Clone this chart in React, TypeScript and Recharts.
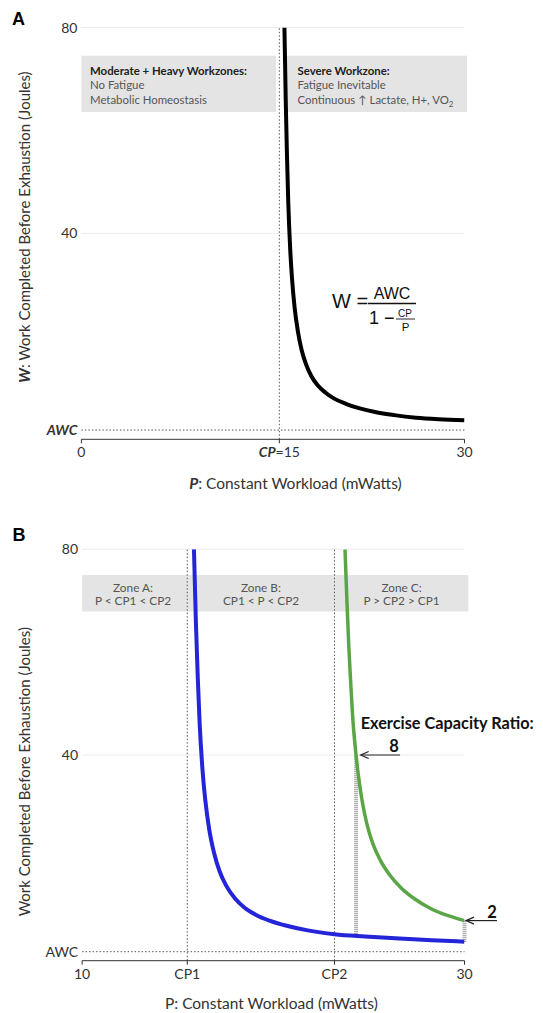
import React from 'react'
import { ComposedChart, Line, XAxis, YAxis, ReferenceLine, ReferenceArea } from 'recharts'

const FONT = 'Lato, "Open Sans", sans-serif'
const MATH = '"Liberation Sans", Arial, sans-serif'

// panel A
const AWC_A = 1.8
const CP_A = 15.5
const pA = [15.9, 16.0, 16.1, 16.2, 16.35, 16.5, 16.7, 16.95, 17.25, 17.6, 18.0, 18.5, 19.1, 19.8, 20.7, 21.8, 23.0, 24.5, 26.2, 28.0, 30]
const wA = [80, 66, 55, 46, 37, 31, 25.5, 21, 17.3, 14.5, 12.3, 10.5, 9.1, 7.9, 6.9, 6.0, 5.3, 4.7, 4.2, 3.9, 3.7]
const ticksXA = [0, CP_A, 30]

// panel B
const AWC_B = 1.75
const CP1 = 15.5
const CP2 = 23.2
const pBlue = [15.85, 15.95, 16.05, 16.15, 16.3, 16.45, 16.65, 16.9, 17.2, 17.55, 18.0, 18.5, 19.1, 19.8, 20.7, 21.8, 23.2, 24.8, 26.6, 28.3, 30]
const wBlue = [80, 66, 55, 46, 37, 31, 25.5, 21, 17.3, 14.5, 12.1, 10.3, 8.9, 7.8, 6.8, 5.9, 5.15, 4.7, 4.3, 3.98, 3.7]
const pGreen = [23.75, 23.85, 23.95, 24.05, 24.15, 24.3, 24.45, 24.65, 24.9, 25.2, 25.6, 26.1, 26.7, 27.4, 28.2, 29.1, 30]
const wGreen = [80, 70, 61, 54, 47.5, 41, 36, 31, 26.5, 22.8, 19.5, 16.6, 14.1, 12.0, 10.2, 8.8, 7.8]
const ticksXB = [10, CP1, CP2, 30]
const tickNamesB = ['10', 'CP1', 'CP2', '30']
const zonesB = [
  { name: 'Zone A:', rule: 'P < CP1 < CP2', x1: 10, x2: CP1 },
  { name: 'Zone B:', rule: 'CP1 < P < CP2', x1: CP1, x2: CP2 },
  { name: 'Zone C:', rule: 'P > CP2 > CP1', x1: CP2, x2: 30.2 }
]
// exercise capacity ratios
const ratioHi = { p: 24.33, low: 4.85, high: 40, label: '8' }
const ratioLo = { p: 30, low: 3.7, high: 7.8, label: '2' }

const seriesA = pA.map((p, i) => ({ p, w: wA[i] }))
const blue = pBlue.map((p, i) => ({ p, w: wBlue[i] }))
const green = pGreen.map((p, i) => ({ p, w: wGreen[i] }))

function YTick({ x, y, payload, italicAwc }: any) {
  const isAwc = payload.value < 5
  return (
    <text x={x} y={y} dy="0.36em" textAnchor="end" fontFamily={FONT} fontSize={14} fill="#333"
      fontWeight={isAwc && italicAwc ? 'bold' : 'normal'} fontStyle={isAwc && italicAwc ? 'italic' : 'normal'}>
      {isAwc ? 'AWC' : payload.value}
    </text>
  )
}

function XTickA({ x, y, payload }: any) {
  return (
    <text x={x} y={y} dy="0.71em" textAnchor="middle" fontFamily={FONT} fontSize={14} fill="#333">
      {payload.value === CP_A ? (
        <>
          <tspan fontWeight="bold" fontStyle="italic">CP</tspan>
          <tspan>=15</tspan>
        </>
      ) : payload.value}
    </text>
  )
}

function XTickB({ x, y, payload }: any) {
  const i = ticksXB.indexOf(payload.value)
  return (
    <text x={x} y={y} dy="0.71em" textAnchor="middle" fontFamily={FONT} fontSize={14} fill="#333">
      {tickNamesB[i]}
    </text>
  )
}

const arrow = (label: string, lx: number, ly: number) => (props: any) => {
  const { x1, y1, x2, y2 } = props
  return (
    <g>
      <line x1={x1} y1={y1} x2={x2} y2={y2} stroke="#222" strokeWidth={1.2} />
      <polyline points={`${x1 + 8},${y1 - 3.5} ${x1},${y1} ${x1 + 8},${y1 + 3.5}`} fill="none" stroke="#222" strokeWidth={1.2} />
      <text x={x2 + lx} y={y1 + ly} textAnchor="middle" fontFamily={FONT} fontWeight="bold" fontSize={16.5} fill="#111">
        {label}
      </text>
    </g>
  )
}

function PanelA() {
  return (
    <div style={{ position: 'absolute', left: 0, top: 0, width: 543, height: 500 }}>
      <ComposedChart width={543} height={500} margin={{ top: 27.5, right: 78.5, bottom: 0, left: 0 }}>
        <XAxis type="number" dataKey="p" domain={[0, 30]} ticks={ticksXA} allowDataOverflow
          height={60.7} tickSize={4} tickMargin={4} stroke="#333" tick={<XTickA />} />
        <YAxis type="number" domain={[0, 80]} ticks={[AWC_A, 40, 80]} allowDataOverflow width={81.4}
          axisLine={false} tickLine={false} tickSize={0} tickMargin={4} tick={<YTick italicAwc />} />
        <ReferenceLine y={80} stroke="#ececec" />
        <ReferenceLine y={40} stroke="#ececec" />
        <ReferenceArea x1={0} x2={15.25} y1={63.6} y2={74.5} fill="#e4e4e4" fillOpacity={1} stroke="none" ifOverflow="visible" />
        <ReferenceArea x1={16.1} x2={30.2} y1={63.6} y2={74.5} fill="#e4e4e4" fillOpacity={1} stroke="none" ifOverflow="visible" />
        <ReferenceLine y={AWC_A} stroke="#555" strokeDasharray="1.5 2" />
        <ReferenceLine x={CP_A} stroke="#555" strokeDasharray="1.5 2" />
        <Line data={seriesA} dataKey="w" type="monotone" stroke="#000" strokeWidth={4} dot={false} isAnimationActive={false} />
      </ComposedChart>
      <svg width={543} height={500} style={{ position: 'absolute', left: 0, top: 0, pointerEvents: 'none' }}>
        <text x={12} y={25} fontFamily={MATH} fontWeight="bold" fontSize={18} fill="#000">A</text>
        <g fontFamily={FONT} fontSize={11.4}>
          <text x={90} y={74.5} fontWeight="bold" fill="#222">Moderate + Heavy Workzones:</text>
          <text x={90} y={89} fill="#555">No Fatigue</text>
          <text x={90} y={103.5} fill="#555">Metabolic Homeostasis</text>
          <text x={297.5} y={74.5} fontWeight="bold" fill="#222">Severe Workzone:</text>
          <text x={297.5} y={89} fill="#555">Fatigue Inevitable</text>
          <text x={297.5} y={103.5} fill="#555">
            Continuous ↑ Lactate, H+, VO<tspan fontSize={8} dy={3}>2</tspan>
          </text>
        </g>
        <g fontFamily={MATH} fill="#111">
          <text x={332} y={307.5} fontSize={20}>W =</text>
          <line x1={368} y1={303.5} x2={416} y2={303.5} stroke="#111" strokeWidth={1.3} />
          <text x={392} y={298.5} fontSize={16} textAnchor="middle">AWC</text>
          <text x={369} y={323.5} fontSize={18}>1 −</text>
          <text x={405} y={317} fontSize={10} textAnchor="middle">CP</text>
          <line x1={396} y1={319} x2={415} y2={319} stroke="#111" strokeWidth={0.9} />
          <text x={405.5} y={330.5} fontSize={11.5} textAnchor="middle">P</text>
        </g>
        <text transform="rotate(-90 24 227)" x={24} y={227} textAnchor="middle" dominantBaseline="central"
          fontFamily={FONT} fontSize={15} fill="#333">
          <tspan fontWeight="bold" fontStyle="italic">W</tspan>: Work Completed Before Exhaustion (Joules)
        </text>
        <text x={295.4} y={489} textAnchor="middle" fontFamily={FONT} fontSize={15.5} fill="#333">
          <tspan fontWeight="bold" fontStyle="italic">P</tspan>: Constant Workload (mWatts)
        </text>
      </svg>
    </div>
  )
}

function PanelB() {
  return (
    <div style={{ position: 'absolute', left: 0, top: 500, width: 543, height: 513 }}>
      <ComposedChart width={543} height={513} margin={{ top: 49.3, right: 78.5, bottom: 0, left: 0 }}>
        <XAxis type="number" dataKey="p" domain={[10, 30]} ticks={ticksXB} allowDataOverflow
          height={52.3} tickSize={4} tickMargin={4} stroke="#333" tick={<XTickB />} />
        <YAxis type="number" domain={[0, 80]} ticks={[AWC_B, 40, 80]} allowDataOverflow width={82.1}
          axisLine={false} tickLine={false} tickSize={0} tickMargin={4} tick={<YTick />} />
        <ReferenceLine y={80} stroke="#ececec" />
        <ReferenceLine y={40} stroke="#ececec" />
        {zonesB.map((z) => (
          <ReferenceArea key={z.name} x1={z.x1} x2={z.x2} y1={67.9} y2={75} fill="#e4e4e4" fillOpacity={1}
            stroke="none" ifOverflow="visible" />
        ))}
        <ReferenceLine y={AWC_B} stroke="#555" strokeDasharray="1.5 2" />
        <ReferenceLine x={CP1} stroke="#555" strokeDasharray="1.5 2" />
        <ReferenceLine x={CP2} stroke="#555" strokeDasharray="1.5 2" />
        <ReferenceLine segment={[{ x: ratioHi.p, y: ratioHi.low }, { x: ratioHi.p, y: ratioHi.high }]}
          stroke="#999" strokeWidth={4} strokeDasharray="1 1" ifOverflow="visible" />
        <ReferenceLine segment={[{ x: ratioLo.p, y: ratioLo.low }, { x: ratioLo.p, y: ratioLo.high }]}
          stroke="#999" strokeWidth={4} strokeDasharray="1 1" ifOverflow="visible" />
        <Line data={blue} dataKey="w" type="monotone" stroke="#2424d8" strokeWidth={4} dot={false} isAnimationActive={false} />
        <Line data={green} dataKey="w" type="monotone" stroke="#5aa646" strokeWidth={3.5} dot={false} isAnimationActive={false} />
        <ReferenceLine segment={[{ x: 24.57, y: ratioHi.high }, { x: 26.63, y: ratioHi.high }]}
          ifOverflow="visible" shape={arrow(ratioHi.label, -6, -3)} />
        <ReferenceLine segment={[{ x: 30.08, y: ratioLo.high }, { x: 31.7, y: ratioLo.high }]}
          ifOverflow="visible" shape={arrow(ratioLo.label, -5, -3)} />
      </ComposedChart>
      <svg width={543} height={513} style={{ position: 'absolute', left: 0, top: 0, pointerEvents: 'none' }}>
        <text x={12.5} y={41} fontFamily={MATH} fontWeight="bold" fontSize={18} fill="#000">B</text>
        <g fontFamily={FONT} fontSize={11.8} fill="#555" textAnchor="middle">
          <text x={133} y={91.5}>Zone A:</text>
          <text x={133} y={105}>P &lt; CP1 &lt; CP2</text>
          <text x={261} y={91.5}>Zone B:</text>
          <text x={261} y={105}>CP1 &lt; P &lt; CP2</text>
          <text x={401.5} y={91.5}>Zone C:</text>
          <text x={401.5} y={105}>P &gt; CP2 &gt; CP1</text>
        </g>
        <text x={360.7} y={228.5} fontFamily={FONT} fontWeight="bold" fontSize={16.3} fill="#111">
          Exercise Capacity Ratio:
        </text>
        <text transform="rotate(-90 24 271.7)" x={24} y={271.7} textAnchor="middle" dominantBaseline="central"
          fontFamily={FONT} fontSize={15} fill="#333">
          Work Completed Before Exhaustion (Joules)
        </text>
        <text x={271.4} y={509} textAnchor="middle" fontFamily={FONT} fontSize={15.5} fill="#333">
          P: Constant Workload (mWatts)
        </text>
      </svg>
    </div>
  )
}

export default function App() {
  return (
    <div style={{ position: 'absolute', left: 0, top: 0, width: 543, height: 1013, background: '#fff' }}>
      <PanelA />
      <PanelB />
    </div>
  )
}
